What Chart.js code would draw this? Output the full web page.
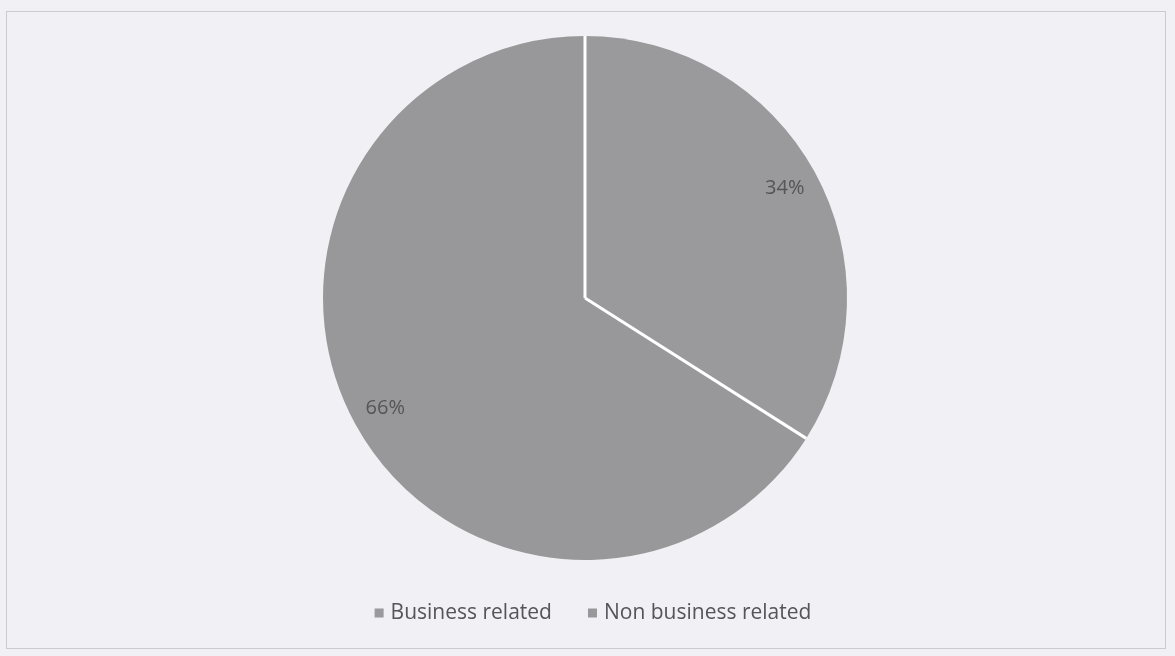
<!DOCTYPE html>
<html>
<head>
<meta charset="utf-8">
<script src="https://cdn.jsdelivr.net/npm/chart.js@4"></script>
<style>
  html, body { margin: 0; padding: 0; background: #f0f0f5; }
  #frame {
    position: absolute; left: 6px; top: 11px; width: 1160px; height: 638px;
    border: 1px solid #cbcbcf; box-sizing: border-box;
  }
  #wrap { position: absolute; left: 0; top: 0; width: 1175px; height: 656px; }
</style>
</head>
<body>
<div id="frame"></div>
<div id="wrap"><canvas id="pieChart"></canvas></div>
<script>
const categories = ['Business related', 'Non business related'];
const shares = [34, 66];
const sliceColors = ['#9a9a9c', '#98989a'];

const fontFamily = '"Open Sans", "Noto Sans", sans-serif';

// white separators between slices, no rim on the outside
const sliceSeparators = {
    id: 'sliceSeparators',
    afterDatasetsDraw(chart) {
        const ctx = chart.ctx;
        const meta = chart.getDatasetMeta(0);
        ctx.save();
        ctx.strokeStyle = '#ffffff';
        ctx.lineWidth = 3;
        meta.data.forEach(arc => {
            const p = arc.getProps(['x', 'y', 'startAngle', 'outerRadius'], true);
            ctx.beginPath();
            ctx.moveTo(p.x, p.y);
            ctx.lineTo(p.x + Math.cos(p.startAngle) * p.outerRadius, p.y + Math.sin(p.startAngle) * p.outerRadius);
            ctx.stroke();
        });
        ctx.restore();
    }
};

// percentage labels inside each slice
const sliceLabels = {
    id: 'sliceLabels',
    afterDatasetsDraw(chart) {
        const ctx = chart.ctx;
        const meta = chart.getDatasetMeta(0);
        ctx.save();
        ctx.font = '20px ' + fontFamily;
        ctx.fillStyle = '#555558';
        ctx.textAlign = 'center';
        ctx.textBaseline = 'middle';
        meta.data.forEach((arc, i) => {
            const p = arc.getProps(['x', 'y', 'startAngle', 'endAngle', 'outerRadius'], true);
            const mid = (p.startAngle + p.endAngle) / 2;
            const r = p.outerRadius * 0.87;
            ctx.fillText(shares[i] + '%', p.x + Math.cos(mid) * r, p.y + Math.sin(mid) * r);
        });
        ctx.restore();
    }
};

// legend row under the pie
const bottomLegend = {
    id: 'bottomLegend',
    afterDraw(chart) {
        const ctx = chart.ctx;
        const box = 9, textGap = 7, itemGap = 36;
        const y = 612;
        ctx.save();
        ctx.font = '21px ' + fontFamily;
        ctx.textBaseline = 'middle';
        const widths = categories.map(c => box + textGap + ctx.measureText(c).width);
        const total = widths.reduce((a, b) => a + b, 0) + itemGap * (categories.length - 1);
        let x = 593 - total / 2;
        categories.forEach((c, i) => {
            ctx.fillStyle = sliceColors[i];
            ctx.fillRect(x, y - box / 2 + 1, box, box);
            ctx.fillStyle = '#555558';
            ctx.fillText(c, x + box + textGap, y + 1);
            x += widths[i] + itemGap;
        });
        ctx.restore();
    }
};

new Chart(document.getElementById('pieChart'), {
    type: 'pie',
    data: {
        labels: categories,
        datasets: [{
            data: shares,
            backgroundColor: sliceColors,
            borderWidth: 0
        }]
    },
    options: {
        responsive: true,
        maintainAspectRatio: false,
        animation: false,
        layout: { padding: { top: 36, bottom: 96, left: 0, right: 5 } },
        plugins: {
            legend: { display: false },
            tooltip: { enabled: false }
        }
    },
    plugins: [sliceSeparators, sliceLabels, bottomLegend]
});
</script>
</body>
</html>
